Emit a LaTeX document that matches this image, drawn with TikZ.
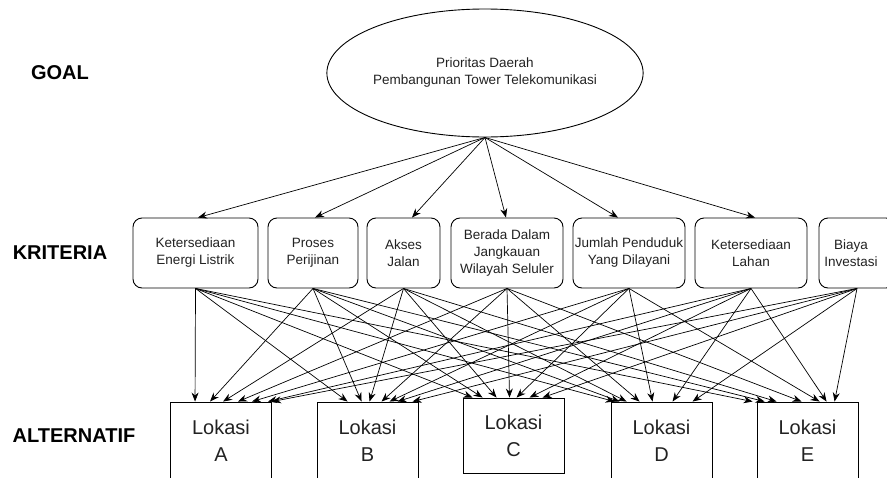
\documentclass[tikz,border=0pt]{standalone}
\usepackage{fontspec}
\setmainfont{Liberation Sans}
\usetikzlibrary{shapes.geometric,arrows.meta,calc}
\definecolor{txt}{HTML}{222222}
\begin{document}
\begin{tikzpicture}[x=1pt,y=-1pt,
  crit/.style={draw, rounded corners=9pt, line width=0.9pt, minimum height=70pt, inner sep=0pt,
     align=center, text=txt, font=\fontsize{13.5}{17}\selectfont},
  alt/.style={draw, line width=0.9pt, minimum width=101pt, inner sep=0pt, align=center,
     text=txt, font=\fontsize{20}{27}\selectfont},
  lvl/.style={font=\fontsize{20}{22}\selectfont\bfseries},
  arr/.style={line width=0.7pt, -{Stealth[length=9pt,width=7pt]}}]
\useasboundingbox (0,0) rectangle (887,477);
\clip (0,0) rectangle (887,477);
% level labels
\node[lvl] (lg) at (60,73) {GOAL};
\node[lvl] (lk) at (60,253) {KRITERIA};
\node[lvl] (la) at (74,436) {ALTERNATIF};
% goal
\node[draw, ellipse, line width=0.9pt, minimum width=290pt, minimum height=128pt, inner sep=0pt,
  align=center, text=txt, font=\fontsize{13.5}{17}\selectfont] (goal) at (485,73)
  {Prioritas Daerah\\Pembangunan Tower Telekomunikasi};
% criteria
\node[crit, minimum width=125pt] (c1) at (195.5,253) {Ketersediaan\\Energi Listrik};
\node[crit, minimum width=90pt] (c2) at (313,253) {Proses\\Perijinan};
\node[crit, minimum width=73pt] (c3) at (403.5,253) {Akses\\Jalan};
\node[crit, minimum width=112pt] (c4) at (507,253) {Berada Dalam\\Jangkauan\\Wilayah Seluler};
\node[crit, minimum width=112pt] (c5) at (629,253) {Jumlah Penduduk\\Yang Dilayani};
\node[crit, minimum width=112pt] (c6) at (751,253) {Ketersediaan\\Lahan};
\node[crit, minimum width=76pt, label={[xshift=-6pt, align=center, text=txt, font=\fontsize{13.5}{17}\selectfont]center:{Biaya\\Investasi}}] (c7) at (857,253) {};
% alternatives
\node[alt, minimum height=78pt] (aA) at (221,441) {Lokasi\\A};
\node[alt, minimum height=78pt] (aB) at (367.5,441) {Lokasi\\B};
\node[alt, minimum height=75pt] (aC) at (513.5,435.5) {Lokasi\\C};
\node[alt, minimum height=78pt] (aD) at (661.5,441) {Lokasi\\D};
\node[alt, minimum height=78pt] (aE) at (807.5,441) {Lokasi\\E};
% goal -> criteria
\foreach \c/\d in {c1/2.5, c2/2, c3/8.5, c4/-1, c5/-11, c6/4}
  \draw[arr] (goal.south) -- ($(\c.north)+(\d,0)$);
% criteria -> alternatives
\foreach \c/\o in {c1/25, c2/40, c3/53, c4/68, c5/82, c6/98, c7/102}
  \draw[arr] (\c.south) -- ($(aA.north west)+(\o,0)$);
\foreach \c/\o in {c1/31, c2/45, c3/53, c4/65, c5/73, c6/81, c7/96}
  \draw[arr] (\c.south) -- ($(aB.north west)+(\o,0)$);
\foreach \c/\o in {c1/10, c2/20, c3/34, c4/47, c5/54, c6/67, c7/80}
  \draw[arr] (\c.south) -- ($(aC.north west)+(\o,0)$);
\foreach \c/\o in {c1/4, c2/9, c3/16, c4/29, c5/42, c6/62, c7/82}
  \draw[arr] (\c.south) -- ($(aD.north west)+(\o,0)$);
\foreach \c/\o in {c1/-4, c2/8, c3/20, c4/45, c5/63, c6/70, c7/78}
  \draw[arr] (\c.south) -- ($(aE.north west)+(\o,0)$);
\end{tikzpicture}
\end{document}
